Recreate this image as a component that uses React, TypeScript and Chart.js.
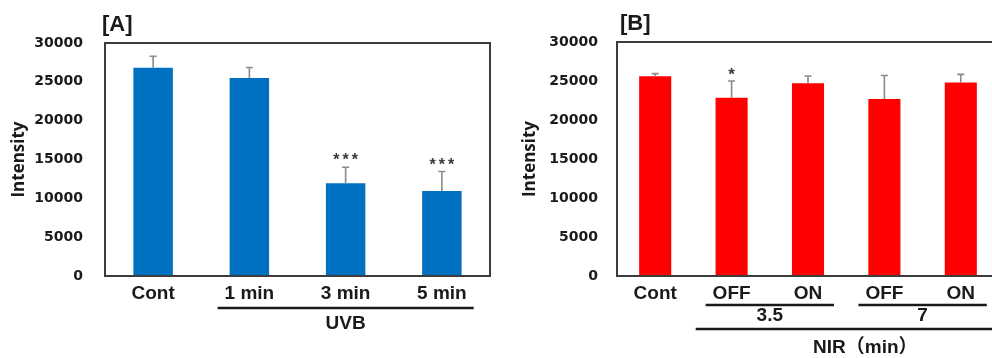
import React, { useEffect, useRef } from 'react';
import { Chart, registerables } from 'chart.js';

Chart.register(...registerables);

// ---------- Data ----------
const categoriesA = ['Cont', '1 min', '3 min', '5 min'];
const valuesA = [26800, 25500, 11950, 10950];
const errorsA = [1500, 1350, 2050, 2500];
const starsA = ['', '', '***', '***'];
const groupsA = [{ label: 'UVB', from: 1, to: 3, level: 0 }];

const categoriesB = ['Cont', 'OFF', 'ON', 'OFF', 'ON'];
const valuesB = [25600, 22850, 24700, 22700, 24800];
const errorsB = [350, 2150, 950, 3000, 1050];
const starsB = ['', '*', '', '', ''];
const groupsB = [
  { label: '3.5', from: 1, to: 2, level: 0 },
  { label: '7', from: 3, to: 4, level: 0 },
  { label: 'NIR（min）', from: 1, to: 4, level: 1 },
];

const yMin = 0;
const yMax = 30000;
const yStep = 5000;

const LABEL_FONT = '"Liberation Sans", Arial, "Noto Sans CJK JP", sans-serif';
const TICK_FONT = '"DejaVu Sans", sans-serif';

const decorPlugin = {
  id: 'decor',
  afterDatasetsDraw(chart: any, _args: any, opts: any) {
    const { ctx, chartArea } = chart;
    const xs = chart.scales.x;
    const ys = chart.scales.y;
    const meta = chart.getDatasetMeta(0);
    const vals: number[] = opts.values;
    const errs: number[] = opts.errors;
    const stars: string[] = opts.stars;
    ctx.save();
    // error bars
    ctx.strokeStyle = '#8a8a8a';
    ctx.lineWidth = 1.6;
    vals.forEach((v, i) => {
      const bar = meta.data[i];
      const x = bar.x;
      const y0 = ys.getPixelForValue(v);
      const y1 = ys.getPixelForValue(v + errs[i]);
      ctx.beginPath();
      ctx.moveTo(x, y0);
      ctx.lineTo(x, y1);
      ctx.moveTo(x - 3.5, y1);
      ctx.lineTo(x + 3.5, y1);
      ctx.stroke();
      if (stars[i]) {
        ctx.fillStyle = '#3a3a3a';
        ctx.font = `bold ${opts.starSize}px ${LABEL_FONT}`;
        ctx.textAlign = 'center';
        ctx.textBaseline = 'alphabetic';
        (ctx as any).letterSpacing = stars[i].length > 1 ? '3px' : '0px';
        const shift = stars[i].length > 1 ? 1.5 : 0;
        ctx.fillText(stars[i], x + shift, y1 - 11 + opts.starSize * 0.57);
        (ctx as any).letterSpacing = '0px';
      }
    });
    // frame
    ctx.strokeStyle = '#3c3c3c';
    ctx.lineWidth = 2;
    ctx.strokeRect(chartArea.left, chartArea.top, chartArea.right - chartArea.left, chartArea.bottom - chartArea.top);
    // panel title
    ctx.fillStyle = '#1a1a1a';
    ctx.font = `bold 22px ${LABEL_FONT}`;
    ctx.textAlign = 'left';
    ctx.textBaseline = 'alphabetic';
    ctx.fillText(opts.title, chartArea.left + opts.titleDx, chartArea.top - 12);
    // group lines + labels
    const cw = xs.getPixelForValue(1) - xs.getPixelForValue(0);
    (opts.groups as any[]).forEach((g) => {
      const lv = opts.levels[g.level];
      const x1 = xs.getPixelForValue(g.from) - lv.extL * cw;
      const x2 = xs.getPixelForValue(g.to) + lv.extR * cw;
      const yl = chartArea.bottom + lv.line;
      ctx.strokeStyle = '#1a1a1a';
      ctx.lineWidth = 2.6;
      ctx.beginPath();
      ctx.moveTo(x1, yl);
      ctx.lineTo(x2, yl);
      ctx.stroke();
      ctx.fillStyle = '#1a1a1a';
      ctx.font = `bold 19px ${LABEL_FONT}`;
      ctx.textAlign = 'center';
      ctx.textBaseline = 'middle';
      ctx.fillText(g.label, (x1 + x2) / 2, chartArea.bottom + lv.label);
    });
    ctx.restore();
  },
};

function makeChart(canvas: HTMLCanvasElement, p: any) {
  return new Chart(canvas, {
    type: 'bar',
    data: {
      labels: p.categories,
      datasets: [
        {
          data: p.values,
          backgroundColor: p.color,
          borderWidth: 0,
          barPercentage: p.barPct,
          categoryPercentage: 1,
        },
      ],
    },
    options: {
      responsive: false,
      animation: false,
      devicePixelRatio: 1,
      layout: { padding: { left: 0, right: p.padRight, top: p.padTop, bottom: 0 } },
      plugins: {
        legend: { display: false },
        tooltip: { enabled: false },
        title: { display: false },
        decor: {
          values: p.values,
          errors: p.errors,
          stars: p.stars,
          starSize: p.starSize,
          groups: p.groups,
          levels: p.levels,
          title: p.title,
          titleDx: p.titleDx,
        },
      } as any,
      scales: {
        x: {
          offset: true,
          grid: { display: false, drawTicks: false },
          border: { display: false },
          ticks: {
            color: '#1a1a1a',
            font: { family: LABEL_FONT, size: 19, weight: 'bold' },
            padding: 6,
            maxRotation: 0,
            autoSkip: false,
          },
          afterFit: (s: any) => {
            s.height = 82;
          },
        },
        y: {
          min: yMin,
          max: yMax,
          grid: { display: false, drawTicks: false },
          border: { display: false },
          ticks: {
            stepSize: yStep,
            color: '#1a1a1a',
            font: { family: TICK_FONT, size: 14, weight: 'bold' },
            padding: p.tickPad,
            callback: (v: any) => String(v),
          },
          title: {
            display: true,
            text: 'Intensity',
            color: '#1a1a1a',
            font: { family: '"Open Sans", sans-serif', size: 17, weight: 'bold' },
            padding: { top: p.titlePad, bottom: 0 },
          },
          afterFit: (s: any) => {
            s.width = p.yWidth;
          },
        },
      },
    } as any,
    plugins: [decorPlugin],
  });
}

export default function App() {
  const refA = useRef<HTMLCanvasElement>(null);
  const refB = useRef<HTMLCanvasElement>(null);

  useEffect(() => {
    const a = makeChart(refA.current!, {
      categories: categoriesA,
      values: valuesA,
      errors: errorsA,
      stars: starsA,
      starSize: 16,
      groups: groupsA,
      levels: [{ extL: 0.33, extR: 0.33, line: 32, label: 47.5 }],
      title: '[A]',
      titleDx: -3,
      color: '#0070C0',
      barPct: 0.41,
      padRight: 10,
      padTop: 43,
      tickPad: 22,
      titlePad: 9,
      yWidth: 105,
    });
    const b = makeChart(refB.current!, {
      categories: categoriesB,
      values: valuesB,
      errors: errorsB,
      stars: starsB,
      starSize: 17,
      groups: groupsB,
      levels: [
        { extL: 0.34, extR: 0.34, line: 29, label: 40 },
        { extL: 0.47, extR: 0.97, line: 53, label: 72 },
      ],
      title: '[B]',
      titleDx: 3,
      color: '#FF0000',
      barPct: 0.42,
      padRight: 21,
      padTop: 42,
      tickPad: 19,
      titlePad: 20,
      yWidth: 117,
    });
    return () => {
      a.destroy();
      b.destroy();
    };
  }, []);

  return (
    <div
      style={{
        position: 'fixed',
        left: 0,
        top: 0,
        width: 992,
        height: 358,
        overflow: 'hidden',
        background: '#ffffff',
      }}
    >
      <canvas
        ref={refA}
        width={500}
        height={358}
        style={{ position: 'absolute', left: 0, top: 0, width: 500, height: 358 }}
      />
      <canvas
        ref={refB}
        width={520}
        height={358}
        style={{ position: 'absolute', left: 500, top: 0, width: 520, height: 358 }}
      />
    </div>
  );
}
